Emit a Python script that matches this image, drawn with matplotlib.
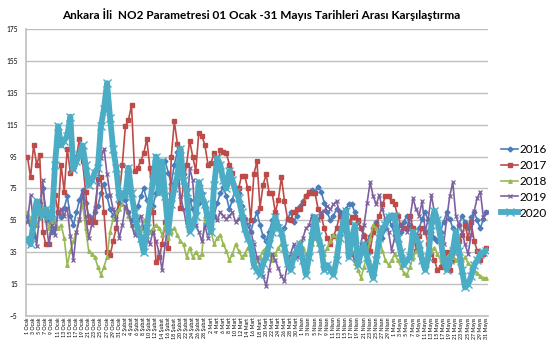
import datetime
import matplotlib
matplotlib.use("Agg")
import matplotlib.pyplot as plt

plt.rcParams["font.family"] = ["Lato", "DejaVu Sans"]

# Day labels 1 Ocak - 31 Mayis (151 days)
months = ["Ocak", "Şubat", "Mart", "Nisan", "Mayıs"]
start = datetime.date(2019, 1, 1)
days = [start + datetime.timedelta(days=i) for i in range(151)]
day_labels = [f"{d.day} {months[d.month - 1]}" for d in days]

series_names = ["2016", "2017", "2018", "2019", "2020"]

no2_2016 = [58, 52, 45, 60, 66, 75, 62, 55, 48, 50, 60, 57, 63, 70, 58, 52, 60, 68, 74, 66,
            58, 55, 60, 64, 72, 78, 70, 62, 58, 60, 66, 72, 68, 60, 55, 58, 64, 70, 75, 68,
            60, 64, 72, 80, 88, 92, 85, 78, 90, 98, 95, 84, 74, 68, 62, 60, 66, 72, 64, 56,
            50, 58, 66, 72, 76, 70, 62, 68, 75, 72, 64, 56, 52, 48, 55, 60, 52, 45, 42, 48,
            55, 58, 52, 46, 50, 56, 60, 54, 58, 64, 67, 70, 72, 74, 73, 76, 73, 66, 60, 55,
            58, 62, 60, 57, 62, 65, 65, 60, 54, 50, 46, 42, 45, 50, 54, 48, 44, 50, 56, 52,
            46, 42, 48, 54, 58, 52, 46, 44, 50, 56, 60, 55, 48, 44, 42, 48, 54, 60, 56, 50,
            46, 52, 58, 54, 50, 57, 60, 55, 50, 56, 60]

no2_2017 = [95, 82, 102, 90, 96, 48, 40, 40, 55, 71, 60, 90, 73, 100, 85, 88, 95, 106, 92, 73,
            54, 55, 54, 81, 82, 60, 35, 33, 42, 50, 70, 90, 114, 118, 127, 86, 88, 92, 97, 106,
            88, 60, 29, 32, 40, 54, 38, 95, 117, 103, 63, 77, 90, 105, 95, 86, 110, 108, 102, 90,
            91, 97, 88, 99, 98, 97, 90, 85, 73, 75, 83, 83, 75, 55, 84, 92, 63, 77, 84, 72,
            72, 60, 68, 82, 67, 56, 55, 60, 62, 62, 66, 70, 73, 72, 72, 62, 58, 50, 44, 40,
            45, 50, 58, 58, 54, 54, 57, 57, 55, 50, 45, 40, 36, 48, 52, 58, 65, 70, 70, 67,
            65, 58, 52, 50, 50, 58, 50, 36, 45, 50, 48, 40, 34, 30, 24, 26, 32, 35, 24, 30,
            38, 42, 46, 52, 44, 54, 42, 36, 30, 34, 38]

no2_2018 = [60, 55, 48, 52, 58, 62, 57, 50, 54, 56, 50, 52, 44, 27, 36, 42, 48, 55, 66, 50,
            36, 34, 32, 26, 21, 26, 32, 48, 56, 60, 62, 65, 63, 58, 52, 48, 46, 50, 55, 52,
            48, 50, 52, 50, 46, 52, 44, 48, 50, 46, 42, 40, 32, 38, 32, 35, 32, 34, 58, 56,
            48, 40, 44, 46, 40, 36, 30, 34, 40, 36, 32, 34, 38, 34, 32, 30, 32, 36, 38, 34,
            30, 34, 38, 40, 36, 32, 30, 34, 38, 42, 38, 34, 36, 40, 44, 40, 36, 34, 38, 42,
            46, 44, 48, 50, 48, 42, 36, 28, 24, 19, 26, 34, 44, 52, 50, 44, 36, 30, 27, 30,
            34, 30, 26, 22, 21, 26, 32, 36, 34, 30, 28, 32, 36, 38, 34, 30, 28, 32, 34, 32,
            30, 28, 30, 32, 28, 26, 24, 22, 20, 19, 19]

no2_2019 = [54, 71, 52, 39, 60, 80, 55, 40, 52, 46, 60, 62, 58, 63, 45, 30, 48, 56, 73, 58,
            44, 52, 63, 78, 94, 100, 84, 71, 62, 56, 44, 52, 64, 60, 52, 46, 55, 58, 50, 45,
            40, 48, 42, 35, 24, 40, 54, 70, 78, 83, 70, 62, 52, 88, 80, 52, 48, 42, 52, 44,
            52, 58, 55, 60, 58, 56, 58, 60, 54, 56, 58, 56, 52, 48, 40, 32, 26, 20, 14, 24,
            34, 30, 25, 20, 17, 28, 34, 40, 32, 36, 44, 50, 52, 58, 58, 55, 60, 61, 64, 62,
            65, 67, 60, 52, 46, 40, 34, 30, 27, 40, 52, 66, 79, 70, 65, 71, 62, 55, 48, 36,
            44, 50, 52, 50, 48, 56, 69, 62, 58, 67, 48, 56, 71, 60, 52, 46, 40, 56, 70, 79,
            58, 52, 48, 40, 34, 46, 61, 69, 73, 57, 60]

no2_2020 = [43, 40, 55, 67, 60, 58, 62, 58, 56, 90, 114, 102, 105, 108, 120, 87, 92, 96, 102, 90,
            77, 80, 85, 88, 114, 125, 141, 119, 100, 88, 69, 72, 70, 88, 72, 60, 50, 44, 35, 50,
            65, 80, 95, 72, 92, 70, 48, 65, 75, 83, 100, 80, 73, 48, 52, 58, 79, 70, 65, 55,
            48, 77, 94, 90, 80, 75, 86, 80, 73, 69, 60, 50, 44, 40, 27, 24, 21, 28, 32, 40,
            48, 57, 50, 48, 38, 28, 24, 32, 36, 40, 30, 21, 32, 45, 57, 45, 38, 24, 27, 24,
            21, 30, 44, 52, 61, 32, 44, 52, 27, 35, 40, 32, 25, 19, 30, 44, 50, 52, 57, 58,
            58, 44, 35, 27, 30, 32, 48, 44, 40, 30, 24, 32, 52, 61, 55, 44, 30, 24, 30, 36,
            48, 36, 24, 13, 15, 20, 27, 30, 34, 35, 36]

colors = ["#4A7EBB", "#BE4B48", "#98B954", "#7D60A0", "#4BACC6"]
markers = ["D", "s", "^", "x", "x"]

fig = plt.figure(figsize=(5.52, 3.44), dpi=100)
ax = fig.add_axes([0.047, 0.081, 0.837, 0.835])

x = list(range(len(day_labels)))
all_series = [no2_2016, no2_2017, no2_2018, no2_2019, no2_2020]
for name, vals, c, m in zip(series_names, all_series, colors, markers):
    if name == "2020":
        ax.plot(x, vals, color=c, lw=4.2, marker=m, ms=6, mew=1.0, label=name, zorder=6)
    elif m == "x":
        ax.plot(x, vals, color=c, lw=1.2, marker=m, ms=3.5, mew=0.9, label=name, zorder=3)
    else:
        ax.plot(x, vals, color=c, lw=1.2, marker=m, ms=2.5, label=name, zorder=3)

ax.set_xlim(-0.5, len(x) - 0.5)
ax.set_ylim(-5, 175)
ax.set_yticks(range(-5, 176, 20))
ax.tick_params(axis="y", labelsize=4.8, length=0, pad=6)
ax.set_xticks(x[::2])
ax.set_xticklabels(day_labels[::2], rotation=90, fontsize=3.8)
ax.tick_params(axis="x", length=0, pad=1)
ax.grid(axis="y", color="#BFBFBF", lw=1)
ax.set_axisbelow(True)
for s in ["top", "right"]:
    ax.spines[s].set_visible(False)
for s in ["left", "bottom"]:
    ax.spines[s].set_color("#BFBFBF")
    ax.spines[s].set_linewidth(1.2)

ax.legend(loc="center left", bbox_to_anchor=(1.006, 0.47), frameon=False, fontsize=8.5,
          handlelength=1.4, handletextpad=0.15, labelspacing=0.42)

fig.suptitle("Ankara İli  NO2 Parametresi 01 Ocak -31 Mayıs Tarihleri Arası Karşılaştırma",
             x=0.473, y=0.975, fontsize=8.5, fontweight="bold")

fig.savefig("out.png", dpi=100)
